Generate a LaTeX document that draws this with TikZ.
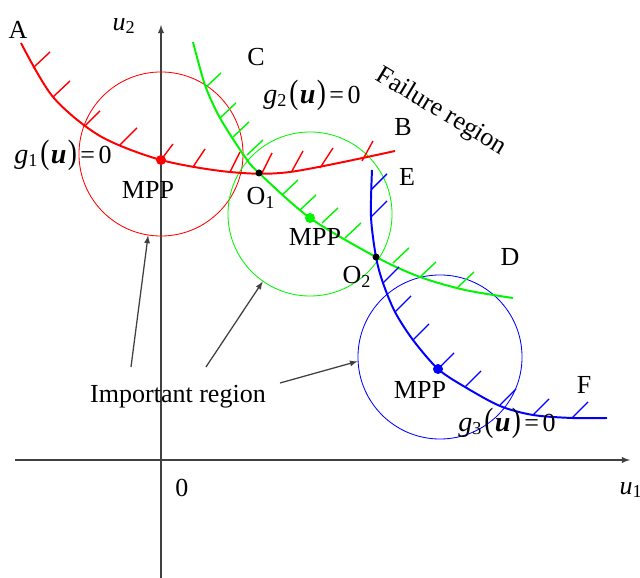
\documentclass[tikz,border=0pt]{standalone}
\usepackage{fontspec}
\setmainfont{Liberation Serif}
\usepackage{graphicx}
\usepackage{xcolor}
\usetikzlibrary{arrows}
\definecolor{axisgray}{RGB}{64,64,64}
\definecolor{curvegreen}{RGB}{0,245,0}

\newcommand{\glab}[1]{{\fontsize{20}{22}\selectfont\textit{g}}\textsubscript{#1}\kern1.5pt\scalebox{1.05}[1.3]{(}\kern1pt{\fontsize{20}{22}\selectfont\textbf{\textit{u}}}\kern1pt\scalebox{1.05}[1.3]{)}\kern2.5pt=\kern2.5pt0}

\begin{document}
\begin{tikzpicture}[x=0.025cm, y=0.025cm,
  font=\fontsize{18.5}{22}\selectfont,
  curve/.style={line width=1.4pt},
  hatch/.style={line width=1pt},
  zone/.style={circle, draw, line width=0.6pt, minimum size=4.1cm, inner sep=0pt},
  pointer/.style={-latex, axisgray, line width=0.9pt}]
\useasboundingbox (0,0) rectangle (640,578);

\draw[-latex, axisgray, line width=1pt] (15,118) -- (630,118);
\draw[-latex, axisgray, line width=1pt] (161,0) -- (161,553);
\node (u1) at (631,88) {\textit{u}\textsubscript{1}};
\node (u2) at (124,552) {\textit{u}\textsubscript{2}};
\node (zero) at (182,90) {0};

\node[zone, red] (rzone) at (161,424) {};
\node[zone, curvegreen] (gzone) at (310,364) {};
\node[zone, blue] (bzone) at (440,221) {};

\draw[red, curve] plot[smooth] coordinates {(21,535) (53,481) (100,442) (161,418) (230,406) (290,406) (395,427)};
\foreach \x/\y/\dx/\dy in {33/510/17/16, 53/481/17/16, 85/452/15/15, 120/433/17/17, 161/418/12/16,
    193/411/12/18, 230/406/10/20, 262/405/10/20, 292/407/11/20, 320/410/13/20, 362/417/11/20}
  \draw[red, hatch] (\x,\y) -- ++(\dx,\dy);

\draw[curvegreen, curve] plot[smooth] coordinates {(193,536) (205,493) (220,460) (245,421) (259,405) (310,360) (376,321) (420,301) (465,288) (513,280)};
\foreach \x/\y in {205/490, 220/460, 233/441, 247/423, 282/383, 300/368, 322/355, 345/340, 393/315, 420/301, 458/291}
  \draw[curvegreen, hatch] (\x,\y) -- ++(16,15);

\draw[blue, curve] plot[smooth] coordinates {(372,408) (371,361) (376,321) (383,295) (395,266) (413,238) (438,209) (465,191) (500,172) (533,163) (572,160) (607,160)};
\foreach \x/\y in {371/388, 371/361, 383/295, 395/266, 413/238, 438/209, 465/191, 500/173, 533/163, 572/160}
  \draw[blue, hatch] (\x,\y) -- ++(16,16);

\fill[red] (161,418) circle (5);
\fill[curvegreen] (310,360) circle (5);
\fill[blue] (438,209) circle (5);
\fill (259,405) circle (3.5);
\fill (376,321) circle (3.5);

\node (A) at (18,548) {A};
\node (B) at (403,451) {B};
\node (C) at (256,521) {C};
\node (D) at (510,321) {D};
\node (E) at (407,401) {E};
\node (F) at (584,193) {F};
\node (O1) at (261,380) {O\textsubscript{1}};
\node (O2) at (357,301) {O\textsubscript{2}};
\node (mppr) at (148,388) {MPP};
\node (mppg) at (315,341) {MPP};
\node (mppb) at (420,188) {MPP};
\node[inner sep=0pt] (g1) at (63,423) {\glab{1}};
\node[inner sep=0pt] (g2) at (312,483) {\glab{2}};
\node[inner sep=0pt] (g3) at (507,155) {\glab{3}};
\node[rotate=-31, inner sep=0pt] (fail) at (441,466) {Failure region};
\node (imp) at (178,181) {Important region};

\coordinate (s1) at (131,211);
\coordinate (s2) at (206,211);
\coordinate (s3) at (280,195);
\draw[pointer] (s1) -- (rzone.261);
\draw[pointer] (s2) -- (gzone.235);
\draw[pointer] (s3) -- (bzone.183);
\end{tikzpicture}
\end{document}
